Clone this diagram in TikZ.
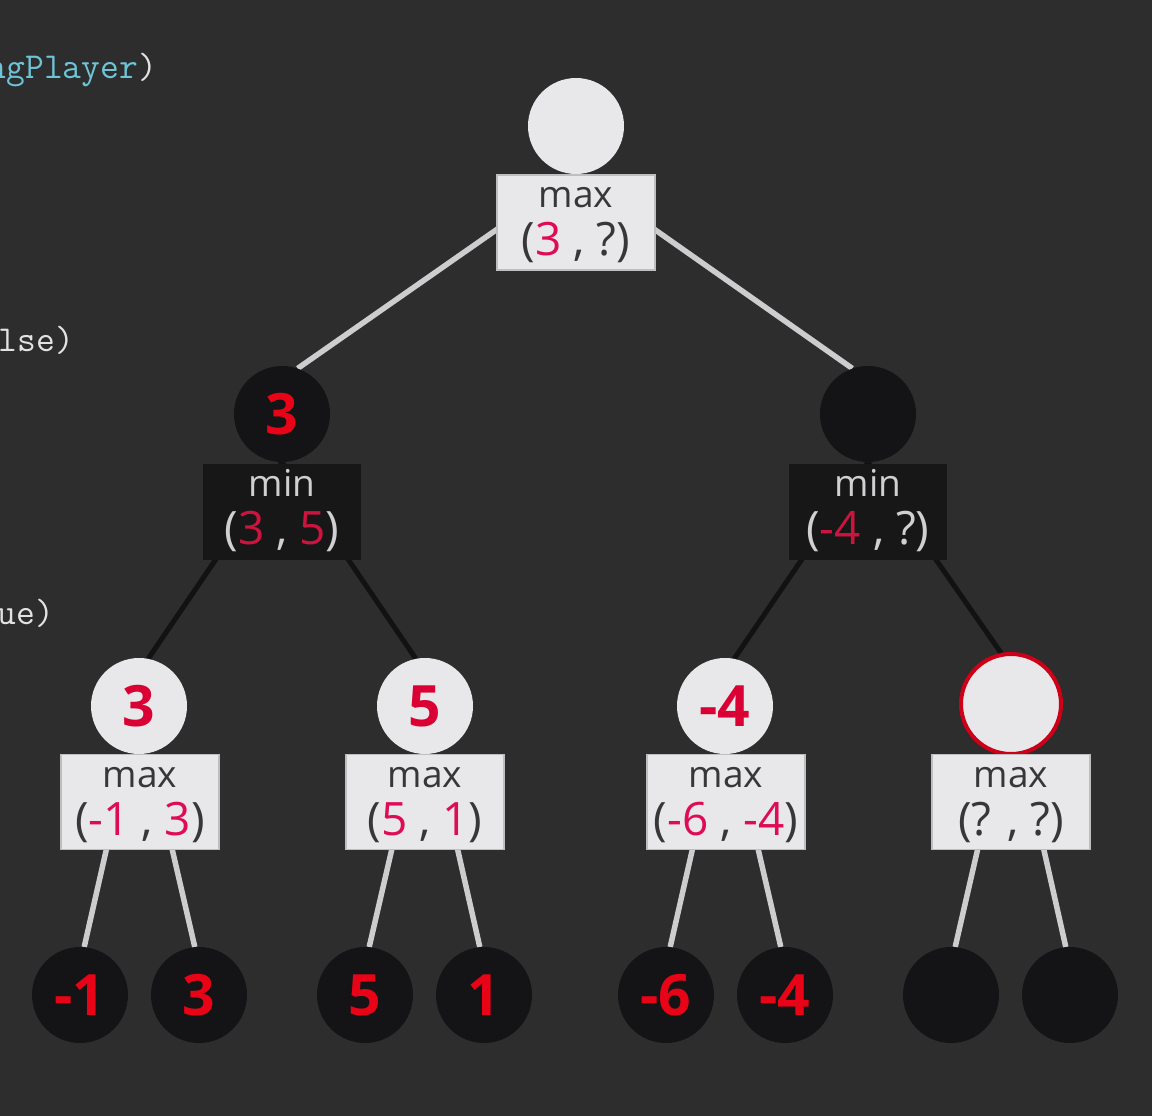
\documentclass[tikz,border=0pt]{standalone}
\usepackage{fontspec}
\setmainfont{Open Sans}
\usetikzlibrary{calc}
\pgfdeclarelayer{bgl}
\pgfdeclarelayer{edgel}
\pgfsetlayers{bgl,edgel,main}
\definecolor{bgc}{RGB}{45,45,45}
\definecolor{lightfill}{RGB}{232,232,234}
\definecolor{darkfill}{RGB}{20,20,22}
\definecolor{darkbox}{RGB}{23,23,24}
\definecolor{boxedge}{RGB}{190,190,193}
\definecolor{ltext}{RGB}{55,55,58}
\definecolor{dtext}{RGB}{208,208,210}
\definecolor{tred}{RGB}{222,12,82}
\definecolor{dred}{RGB}{205,20,62}
\definecolor{cred}{RGB}{232,4,22}
\definecolor{wred}{RGB}{218,0,52}
\definecolor{ringred}{RGB}{205,0,24}
\definecolor{linegray}{RGB}{205,205,207}
\definecolor{lineblack}{RGB}{18,18,19}
\definecolor{codecyan}{RGB}{110,196,214}
\definecolor{codewhite}{RGB}{226,226,226}
\begin{document}
\begin{tikzpicture}[x=1pt,y=-1pt,
  lcirc/.style={circle, fill=lightfill, minimum size=96pt, inner sep=0pt,
    font=\fontsize{57}{57}\selectfont\bfseries, text=wred},
  dcirc/.style={circle, fill=darkfill, minimum size=96pt, inner sep=0pt,
    font=\fontsize{57}{57}\selectfont\bfseries, text=cred},
  ringcirc/.style={circle, fill=lightfill, draw=ringred, line width=4pt,
    minimum size=100pt, inner sep=0pt},
  lbox/.style={rectangle, fill=lightfill, draw=boxedge, line width=1.5pt,
    minimum width=158pt, minimum height=95pt, inner sep=0pt},
  dbox/.style={rectangle, fill=darkbox, minimum width=158pt,
    minimum height=96pt, inner sep=0pt},
  optext/.style={anchor=base, inner sep=0pt, font=\fontsize{37}{40}\selectfont},
  tuptext/.style={anchor=base, inner sep=0pt, font=\fontsize{46}{48}\selectfont},
  codetext/.style={anchor=base east, inner sep=0pt,
    font=\ttfamily\fontsize{36.5}{36.5}\selectfont},
  lightedge/.style={draw=linegray, line width=5.5pt},
  darkedge/.style={draw=lineblack, line width=5pt}
]
\useasboundingbox (0,0) rectangle (1152,1116);
\begin{pgfonlayer}{bgl}
  \fill[bgc] (0,0) rectangle (1152,1116);
\end{pgfonlayer}

% code fragments
\node[codetext, text=codecyan] (c1) at (157,78) {ngPlayer\textcolor{codewhite}{)}};
\node[codetext, text=codewhite] (c2) at (74,351) {alse)};
\node[codetext, text=codewhite] (c3) at (54,624) {rue)};

% root
\node[lcirc] (root) at (576,126) {};
\node[lbox] (rootbox) at (576,222.5) {};
\node[optext, text=ltext] (rootop) at (576,207) {max};
\node[tuptext, text=ltext] (roottup) at (576,255) {(\textcolor{tred}{3} , ?)};

% level 1
\node[dcirc] (L) at (282,414) {3};
\node[dbox] (Lbox) at (282,512) {};
\node[optext, text=dtext] (Lop) at (282,496) {min};
\node[tuptext, text=dtext] (Ltup) at (282,544) {(\textcolor{dred}{3} , \textcolor{dred}{5})};

\node[dcirc] (R) at (868,414) {};
\node[dbox] (Rbox) at (868,512) {};
\node[optext, text=dtext] (Rop) at (868,496) {min};
\node[tuptext, text=dtext] (Rtup) at (868,544) {(\textcolor{dred}{-4} , ?)};

% level 2
\node[lcirc] (A) at (139,706) {3};
\node[lbox] (Abox) at (140,802) {};
\node[optext, text=ltext] (Aop) at (140,787) {max};
\node[tuptext, text=ltext] (Atup) at (140,835) {(\textcolor{tred}{-1} , \textcolor{tred}{3})};

\node[lcirc] (B) at (425,706) {5};
\node[lbox] (Bbox) at (425,802) {};
\node[optext, text=ltext] (Bop) at (425,787) {max};
\node[tuptext, text=ltext] (Btup) at (425,835) {(\textcolor{tred}{5} , \textcolor{tred}{1})};

\node[lcirc] (C) at (725,706) {-4};
\node[lbox] (Cbox) at (726,802) {};
\node[optext, text=ltext] (Cop) at (726,787) {max};
\node[tuptext, text=ltext] (Ctup) at (726,835) {(\textcolor{tred}{-6} , \textcolor{tred}{-4})};

\node[ringcirc] (D) at (1011,704) {};
\node[lbox] (Dbox) at (1011,802) {};
\node[optext, text=ltext] (Dop) at (1011,787) {max};
\node[tuptext, text=ltext] (Dtup) at (1011,835) {(? , ?)};

% leaves
\node[dcirc] (a1) at (80,995) {-1};
\node[dcirc] (a2) at (199,995) {3};
\node[dcirc] (b1) at (365,995) {5};
\node[dcirc] (b2) at (484,995) {1};
\node[dcirc] (c1l) at (666,995) {-6};
\node[dcirc] (c2l) at (785,995) {-4};
\node[dcirc] (d1) at (951,995) {};
\node[dcirc] (d2) at (1070,995) {};

% edges
\begin{pgfonlayer}{edgel}
  \draw[lightedge] (root.south) -- (L.71);
  \draw[lightedge] (root.south) -- (R.109);
  \draw[darkedge] (L.south) -- (A.79);
  \draw[darkedge] (L.south) -- (B.101);
  \draw[darkedge] (R.south) -- (C.79);
  \draw[darkedge] (R.south) -- (D.101);
  \draw[lightedge] ($(A.center)!0.5!(a1.85)$) -- (a1.85);
  \draw[lightedge] ($(A.center)!0.5!(a2.95)$) -- (a2.95);
  \draw[lightedge] ($(B.center)!0.5!(b1.85)$) -- (b1.85);
  \draw[lightedge] ($(B.center)!0.5!(b2.95)$) -- (b2.95);
  \draw[lightedge] ($(C.center)!0.5!(c1l.85)$) -- (c1l.85);
  \draw[lightedge] ($(C.center)!0.5!(c2l.95)$) -- (c2l.95);
  \draw[lightedge] ($(D.center)!0.5!(d1.85)$) -- (d1.85);
  \draw[lightedge] ($(D.center)!0.5!(d2.95)$) -- (d2.95);
\end{pgfonlayer}
\end{tikzpicture}
\end{document}
